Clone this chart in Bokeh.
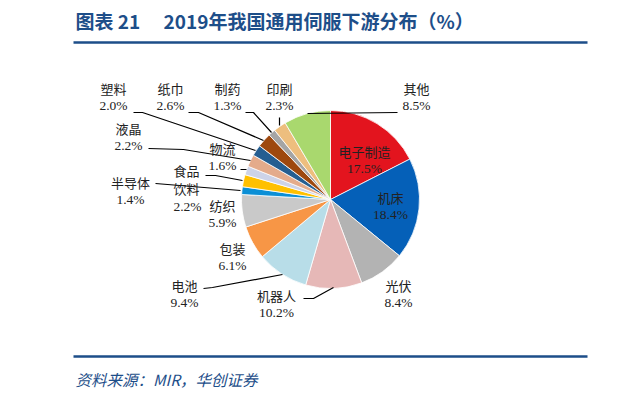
import math
from bokeh.plotting import figure
from bokeh.models import Range1d
from bokeh.core.properties import value
from bokeh.embed import file_html
from bokeh.resources import INLINE

# ---- data ----
categories = ["电子制造", "机床", "光伏", "机器人", "电池", "包装", "纺织", "半导体",
              "食品饮料", "物流", "液晶", "塑料", "纸巾", "制药", "印刷", "其他"]
shares = [17.5, 18.4, 8.4, 10.2, 9.4, 6.1, 5.9, 1.4, 2.2, 1.6, 2.2, 2.0, 2.6, 1.3, 2.3, 8.5]
colors = ["#E3141E", "#0560B8", "#B3B3B3", "#E6B8B7", "#B8DDE8", "#F79646", "#C9C9C9", "#0B8FD6",
          "#FFC000", "#CDD3E8", "#E4AB8B", "#255E91", "#9E480E", "#A5A5A5", "#EDBE7E", "#A9D86E"]
title_text = "图表 21\u3000 2019年我国通用伺服下游分布（%）"
source_text = "资料来源：MIR，华创证券"

# ---- layout helpers (page pixel coords -> data coords) ----
W, H = 604, 390
def Y(py):
    return 398 - py

p = figure(width=W, height=H, output_backend="svg", toolbar_location=None,
           x_range=Range1d(0, 604), y_range=Range1d(8, 398), min_border=0,
           x_axis_type=None, y_axis_type=None, outline_line_color=None)
p.xgrid.visible = False
p.ygrid.visible = False
p.background_fill_color = "white"
p.border_fill_color = "white"

navy = "#1D4E89"

# title
p.text(x=[75], y=[Y(20)], text=[title_text], text_font=value("Noto Sans CJK SC"),
       text_font_style="bold", text_font_size="19px", text_color=navy,
       text_align="left", text_baseline="middle")
# rules
p.line(x=[73, 587], y=[Y(42), Y(42)], line_color=navy, line_width=2.5)
p.line(x=[73, 587], y=[Y(356), Y(356)], line_color=navy, line_width=2.5)
# source
p.text(x=[75], y=[Y(378)], text=[source_text], text_font=value("Noto Sans CJK SC"),
       text_font_style="italic", text_font_size="15.5px", text_color=navy,
       text_align="left", text_baseline="middle")

# ---- pie ----
cx, cy, r = 330, Y(199), 89
total = sum(shares)
starts, ends = [], []
cum = 0.0
for s in shares:
    starts.append(math.pi / 2 - 2 * math.pi * cum / total)
    cum += s
    ends.append(math.pi / 2 - 2 * math.pi * cum / total)
p.wedge(x=[cx] * len(shares), y=[cy] * len(shares), radius=r,
        start_angle=starts, end_angle=ends, direction="clock",
        fill_color=colors, line_color="white", line_width=0.8)

# leader lines (page coords)
leaders = {
    "其他": [(307, 113), (397, 112)],
    "印刷": [(279, 117), (279, 125)],
    "制药": [(245, 112), (253, 112), (271, 132)],
    "纸巾": [(188, 112), (198, 112), (263, 140)],
    "塑料": [(133, 112), (142, 112), (255, 150)],
    "液晶": [(148, 148), (183, 149), (250, 160)],
    "物流": [(240, 169), (246, 169)],
    "食品饮料": [(205, 175), (215, 175), (242, 180)],
    "半导体": [(155, 183), (240, 190)],
    "电池": [(203, 288), (212, 287), (282, 274)],
    "机器人": [(303, 298), (313, 298), (333, 287)],
}
xs, ys = [], []
for pts in leaders.values():
    xs.append([a for a, b in pts])
    ys.append([Y(b) for a, b in pts])
p.multi_line(xs=xs, ys=ys, line_color="black", line_width=1.2)

# label positions (page coords of name line, pct line)
label_pos = {
    "电子制造": (364, 151), "机床": (390, 197), "光伏": (398, 285), "机器人": (276, 295),
    "电池": (184, 285), "包装": (232, 248), "纺织": (222, 205), "半导体": (130, 182),
    "食品饮料": (186, 170), "物流": (222, 148), "液晶": (128, 128), "塑料": (113, 88),
    "纸巾": (170, 88), "制药": (227, 88), "印刷": (279, 88), "其他": (416, 88),
}
nx, ny, nt, px, py, pt = [], [], [], [], [], []
for cat, s in zip(categories, shares):
    lx, ly = label_pos[cat]
    if cat == "食品饮料":
        nx += [lx, lx]; ny += [Y(ly), Y(ly + 18)]; nt += ["食品", "饮料"]
        px.append(lx + 1); py.append(Y(ly + 36)); pt.append(f"{s:.1f}%")
    else:
        nx.append(lx); ny.append(Y(ly)); nt.append(cat)
        px.append(lx); py.append(Y(ly + 17)); pt.append(f"{s:.1f}%")
p.text(x=nx, y=ny, text=nt, text_font=value("Noto Sans CJK SC"), text_font_size="13px",
       text_color="#222222", text_align="center", text_baseline="middle")
p.text(x=px, y=py, text=pt, text_font=value("Liberation Serif"), text_font_size="13.5px",
       text_color="#222222", text_align="center", text_baseline="middle")

open("out.html", "w").write(file_html(p, INLINE))
